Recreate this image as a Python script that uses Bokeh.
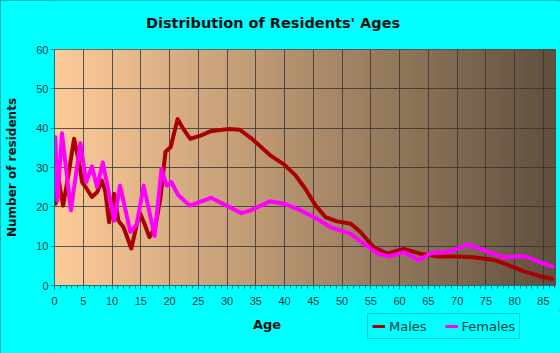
import numpy as np
from bokeh.plotting import figure
from bokeh.layouts import column
from bokeh.models import Legend, LegendItem, Range1d, FixedTicker, Label
from bokeh.embed import file_html
from bokeh.resources import INLINE

# ---- data ----
male_ages = [0, 0.2, 0.45, 1.5, 2.45, 3.4, 4.2, 4.8, 5.6, 6.5, 7.4, 8.2, 8.8, 9.5,
             10.4, 11.1, 12.0, 13.35, 14.8, 15.6, 16.5, 17.5, 18.4, 19.3, 20.2,
             21.4, 22.4, 23.6, 25.4, 27.1, 30.3, 32.2, 34.4, 37.5, 39.9, 41.9,
             43.6, 45.4, 47.1, 49.1, 51.5, 53.2, 55.5, 57.8, 60.7, 63.6, 66.5,
             70.0, 72.9, 76.4, 78.7, 81.6, 84.5, 86.8]
males = [26.7, 20.8, 29.2, 20.3, 28.4, 37.3, 31.8, 26.3, 24.6, 22.5, 23.7, 26.7, 24.2, 16.1,
         23.3, 16.5, 14.8, 9.4, 18.6, 15.9, 12.3, 14.8, 22.0, 34.0, 35.2,
         42.3, 39.8, 37.3, 38.1, 39.2, 39.8, 39.6, 37.2, 33.1, 30.8, 28.0,
         24.6, 20.3, 17.4, 16.3, 15.7, 13.6, 9.7, 8.1, 9.3, 8.1, 7.4,
         7.4, 7.2, 6.5, 5.3, 3.6, 2.3, 1.6]

female_ages = [0, 0.15, 0.5, 1.3, 2.85, 4.5, 5.5, 6.5, 7.4, 8.4, 10.4, 11.4, 13.2,
               14.3, 15.5, 17.4, 18.6, 19.5, 20.3, 21.5, 23.5, 27.2, 32.5, 34.1,
               37.5, 39.9, 42.8, 45.7, 48.0, 51.5, 53.8, 56.1, 58.1, 60.7, 63.3,
               65.4, 68.3, 72.0, 74.7, 77.9, 81.6, 84.5, 86.8]
females = [36.5, 37.7, 21.6, 38.7, 19.1, 36.2, 26.3, 30.3, 25.0, 31.3, 16.5, 25.4, 13.6,
           15.5, 25.4, 12.6, 29.7, 25.4, 26.3, 23.0, 20.3, 22.3, 18.4, 19.1,
           21.4, 20.8, 19.1, 16.9, 14.8, 13.1, 10.6, 8.2, 7.4, 8.5, 6.4,
           8.2, 8.5, 10.4, 8.9, 7.2, 7.5, 5.9, 4.7]

x_ticks = list(range(0, 90, 5))
y_ticks = [0, 10, 20, 30, 40, 50, 60]
series_names = ["Males", "Females"]
series_colors = ["#AA0000", "#FF00FF"]
title_text = "Distribution of Residents' Ages"
x_label = "Age"
y_label = "Number of residents"

X_END = 87.1
Y_END = 60
CYAN = "#00FFFF"


def strip(height):
    """A plain cyan strip whose frame is aligned with the chart frame (x 54..555 px)."""
    s = figure(width=560, height=height, output_backend="svg", toolbar_location=None,
               x_range=Range1d(54, 555), y_range=Range1d(0, height),
               x_axis_type=None, y_axis_type=None,
               min_border_left=54, min_border_right=5, min_border_top=0, min_border_bottom=0)
    s.border_fill_color = CYAN
    s.background_fill_color = CYAN
    s.outline_line_color = None
    s.grid.visible = False
    s.title.visible = False
    return s


# ---------------- title strip ----------------
H1 = 41
top = strip(H1)
top.add_layout(Label(x=272.5, y=H1 - 22, text=title_text, text_align="center",
                     text_baseline="middle", text_font="DejaVu Sans",
                     text_font_style="bold", text_font_size="14.5px", text_color="#111111"))

# ---------------- main chart ----------------
H_MAIN = 269
p = figure(width=560, height=H_MAIN, output_backend="svg", toolbar_location=None,
           x_range=Range1d(0, X_END), y_range=Range1d(0, Y_END),
           min_border_left=54, min_border_right=5, min_border_top=8, min_border_bottom=25)
p.border_fill_color = CYAN
p.outline_line_color = "#4a4a4a"
p.outline_line_width = 1
p.title.visible = False

# gradient background of the plot area
n = 500
left = np.array([255, 204, 153], dtype=float)
right = np.array([96, 80, 63], dtype=float)
t = np.linspace(0, 1, n)[:, None]
cols = (left * (1 - t) + right * t).astype(np.uint32)
img = np.empty((1, n), dtype=np.uint32)
img[0, :] = (255 << 24) | (cols[:, 2] << 16) | (cols[:, 1] << 8) | cols[:, 0]
bg = p.image_rgba(image=[img], x=0, y=0, dw=X_END, dh=Y_END)
bg.level = "image"

p.xgrid.ticker = FixedTicker(ticks=x_ticks)
p.ygrid.ticker = FixedTicker(ticks=y_ticks)
for g in (p.xgrid, p.ygrid):
    g.grid_line_color = "#333333"
    g.grid_line_alpha = 0.8
    g.grid_line_width = 1

p.xaxis.ticker = FixedTicker(ticks=x_ticks, minor_ticks=list(range(0, 88)))
p.yaxis.ticker = FixedTicker(ticks=y_ticks)
axis_col = "#0a7a7a"
for ax in (p.xaxis, p.yaxis):
    ax.axis_line_color = axis_col
    ax.major_tick_line_color = axis_col
    ax.minor_tick_line_color = axis_col
    ax.major_tick_in = 0
    ax.minor_tick_in = 0
    ax.major_label_text_font = "Liberation Sans"
    ax.major_label_text_font_size = "11px"
    ax.major_label_text_color = "#103a3a"
p.xaxis.major_tick_out = 4
p.xaxis.minor_tick_out = 3
p.xaxis.major_label_standoff = 7

p.yaxis.major_tick_out = 4
p.yaxis.minor_tick_line_color = None
p.yaxis.major_label_standoff = 2
p.yaxis.axis_label = y_label
p.yaxis.axis_label_text_font = "DejaVu Sans"
p.yaxis.axis_label_text_font_style = "bold"
p.yaxis.axis_label_text_font_size = "12px"
p.yaxis.axis_label_text_color = "#111111"
p.yaxis.axis_label_standoff = 14

p.line(male_ages, males, line_color=series_colors[0], line_width=4, line_join="round")
p.line(female_ages, females, line_color=series_colors[1], line_width=4, line_join="round")

# ---------------- bottom strip: x label and legend ----------------
H2 = 43
q = strip(H2)
q.add_layout(Label(x=266.5, y=H2 - 14, text=x_label, text_align="center",
                   text_baseline="middle", text_font="DejaVu Sans",
                   text_font_style="bold", text_font_size="13px", text_color="#111111"))

key_m = q.line(male_ages, males, line_color=series_colors[0], line_width=3, visible=False)
key_f = q.line(female_ages, females, line_color=series_colors[1], line_width=3, visible=False)
legend = Legend(items=[LegendItem(label=series_names[0], renderers=[key_m]),
                       LegendItem(label=series_names[1], renderers=[key_f])],
                location=(313, 14), orientation="horizontal")
legend.border_line_color = "#0a8a8a"
legend.border_line_width = 1
legend.background_fill_alpha = 0
legend.inactive_fill_alpha = 0
legend.label_text_font = "DejaVu Sans"
legend.label_text_font_size = "13px"
legend.label_text_color = "#053d3d"
legend.glyph_width = 13
legend.glyph_height = 16
legend.label_height = 16
legend.label_standoff = 4
legend.spacing = 18
legend.padding = 4
legend.margin = 0
q.add_layout(legend, "center")

page = column(top, p, q, spacing=0,
              styles={"outline": "1px solid #0a9a9a", "outline-offset": "-1px",
                      "background-color": CYAN})

open("out.html", "w").write(file_html(page, INLINE))
